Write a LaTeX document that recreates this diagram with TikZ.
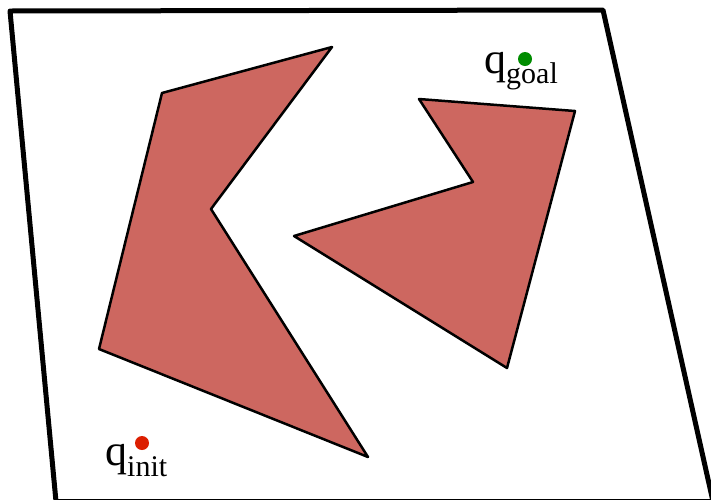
\documentclass[tikz,border=0pt]{standalone}
\usepackage{fontspec}
\setmainfont{Liberation Serif}
\usepackage{tikz}
\usetikzlibrary{positioning}
\definecolor{obstred}{RGB}{205,103,96}
\definecolor{goalgreen}{RGB}{0,140,0}
\definecolor{initred}{RGB}{220,30,0}

\begin{document}
\begin{tikzpicture}[
  x=1pt, y=-1pt,
  boundary/.style={draw, line width=5pt, line join=round},
  obstacle/.style={draw, fill=obstred, line width=2.5pt, line join=round},
  config/.style={circle, inner sep=0pt, minimum size=14pt},
  qlabel/.style={anchor=base west, inner sep=0pt}
]
\useasboundingbox (0,0) rectangle (711,499);

% workspace border
\draw[boundary] (56,501.5) -- (10,11) -- (603,10) -- (713,501.5) -- cycle;

% obstacles
\draw[obstacle] (162,93) -- (332,47) -- (211,209) -- (368,457) -- (99,349) -- cycle;
\draw[obstacle] (419,99) -- (575,111) -- (507,368) -- (294,236) -- (473,182) -- cycle;

% start and goal
\node[config, fill=goalgreen] (goal) at (525,59) {};
\node[qlabel] (goallabel) at (484,73)
  {\fontsize{44}{44}\selectfont q\raisebox{-10pt}{\fontsize{30}{30}\selectfont goal}};
\node[config, fill=initred] (init) at (142,443) {};
\node[qlabel] (initlabel) at (105,465)
  {\fontsize{44}{44}\selectfont q\raisebox{-11pt}{\fontsize{30}{30}\selectfont init}};
\end{tikzpicture}
\end{document}
